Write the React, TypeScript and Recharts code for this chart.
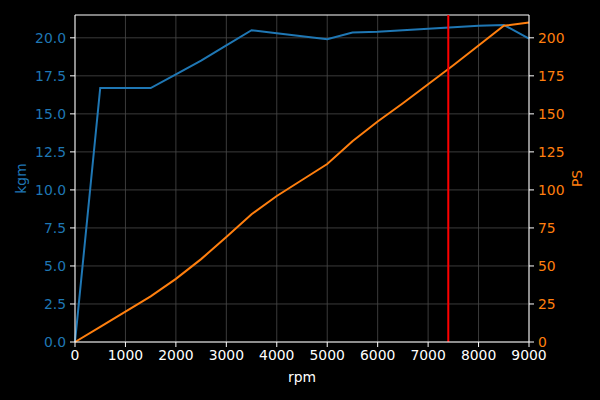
import {
  LineChart, Line, XAxis, YAxis, CartesianGrid, ReferenceLine, Label,
} from 'recharts';

const rpm = [0, 500, 1000, 1500, 2000, 2500, 3000, 3500, 4000, 4500, 5000, 5500, 6000, 6500, 7000, 7500, 8000, 8500, 9000];
const torqueKgm = [0, 16.7, 16.7, 16.7, 17.6, 18.5, 19.5, 20.5, 20.3, 20.1, 19.9, 20.35, 20.4, 20.5, 20.6, 20.7, 20.8, 20.85, 19.95];
const powerPs = [0, 10, 20, 30, 41.5, 54.5, 69, 84, 96, 106.5, 117, 132, 145, 157, 169.5, 182, 195, 208, 210];

const xTicks = [0, 1000, 2000, 3000, 4000, 5000, 6000, 7000, 8000, 9000];
const kgmTicks = [0, 2.5, 5, 7.5, 10, 12.5, 15, 17.5, 20];
const psTicks = [0, 25, 50, 75, 100, 125, 150, 175, 200];
const redlineRpm = 7400;

const BLUE = '#1f77b4';
const ORANGE = '#ff7f0e';
const FONT = 'DejaVu Sans';

const data = rpm.map((r, i) => ({ rpm: r, kgm: torqueKgm[i], ps: powerPs[i] }));

export default function App() {
  return (
    <div style={{ position: 'absolute', left: 0, top: 0, width: 600, height: 400, background: '#000' }}>
      <LineChart
        width={600}
        height={400}
        data={data}
        margin={{ top: 15, right: 0, bottom: 0, left: 0 }}
        style={{ fontFamily: FONT }}
      >
        <CartesianGrid yAxisId="left" stroke="#4a4a4a" strokeWidth={0.8} horizontalValues={kgmTicks} />
        <XAxis
          dataKey="rpm"
          type="number"
          domain={[0, 9000]}
          ticks={xTicks}
          height={58}
          stroke="#fff"
          tick={{ fill: '#fff', fontSize: 13.9 }}
          tickSize={5}
          tickMargin={3}
          interval={0}
        >
          <Label value="rpm" position="center" dy={6} fill="#fff" fontSize={13.9} />
        </XAxis>
        <YAxis
          yAxisId="left"
          type="number"
          domain={[0, 21.5]}
          ticks={kgmTicks}
          width={75}
          stroke="#fff"
          tick={{ fill: BLUE, fontSize: 13.9 }}
          tickFormatter={(v: number) => v.toFixed(1)}
          tickSize={5}
          tickMargin={4}
          interval={0}
        >
          <Label value="kgm" angle={-90} position="center" dx={-16} fill={BLUE} fontSize={13.9} />
        </YAxis>
        <YAxis
          yAxisId="right"
          orientation="right"
          type="number"
          domain={[0, 215]}
          ticks={psTicks}
          width={71}
          stroke="#fff"
          tick={{ fill: ORANGE, fontSize: 13.9 }}
          tickSize={5}
          tickMargin={4}
          interval={0}
        >
          <Label value="PS" angle={-90} position="center" dx={13} fill={ORANGE} fontSize={13.9} />
        </YAxis>
        <ReferenceLine yAxisId="left" y={21.5} stroke="#fff" strokeWidth={1.2} ifOverflow="visible" />
        <Line yAxisId="left" type="linear" dataKey="kgm" stroke={BLUE} strokeWidth={2} dot={false} isAnimationActive={false} />
        <Line yAxisId="right" type="linear" dataKey="ps" stroke={ORANGE} strokeWidth={2} dot={false} isAnimationActive={false} />
        <ReferenceLine yAxisId="left" x={redlineRpm} stroke="#ff0000" strokeWidth={2} />
      </LineChart>
    </div>
  );
}
